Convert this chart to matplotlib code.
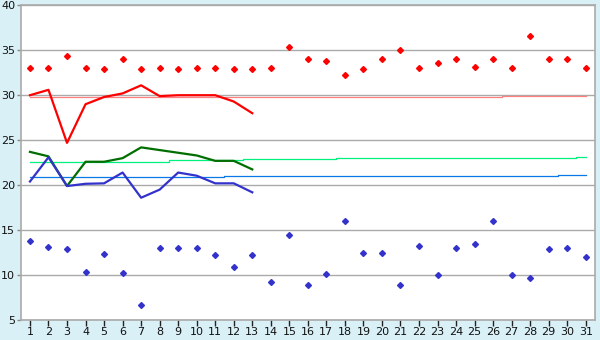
import matplotlib
matplotlib.use("Agg")
import matplotlib.pyplot as plt

days = list(range(1, 32))

max_temp = [33.0, 33.0, 34.4, 33.0, 32.9, 34.0, 32.9, 33.0, 32.9, 33.0,
            33.0, 32.9, 32.9, 33.0, 35.4, 34.0, 33.8, 32.2, 32.9, 34.0,
            35.0, 33.0, 33.55, 34.0, 33.1, 34.0, 33.0, 36.6, 34.0, 34.0, 33.0]
min_temp = [13.8, 13.1, 12.9, 10.3, 12.3, 10.2, 6.7, 13.0, 13.0, 13.0,
            12.2, 10.9, 12.2, 9.2, 14.4, 8.9, 10.1, 16.0, 12.4, 12.4,
            8.9, 13.2, 10.0, 13.0, 13.4, 16.0, 10.0, 9.7, 12.9, 13.0, 12.0]

line_days = list(range(1, 14))
high_line = [30.0, 30.6, 24.7, 29.0, 29.8, 30.2, 31.1, 29.9, 30.0, 30.0, 30.0, 29.3, 28.0]
mean_line = [23.7, 23.2, 19.9, 22.6, 22.6, 23.0, 24.2, 23.9, 23.6, 23.3, 22.7, 22.7, 21.75]
low_line = [20.4, 23.1, 19.9, 20.15, 20.2, 21.4, 18.6, 19.5, 21.4, 21.05, 20.2, 20.2, 19.2]

normal_high = [29.8] * 26 + [29.9] * 5
normal_mean = [22.55] * 3 + [22.62] * 5 + [22.75] * 4 + [22.88] * 5 + [23.0] * 13 + [23.12]
normal_low = [20.92] * 11 + [21.03] * 18 + [21.14] * 2

y_ticks = [5, 10, 15, 20, 25, 30, 35, 40]

bg = "#d9f0f7"
fig = plt.figure(figsize=(6, 3.4), dpi=100, facecolor=bg)
ax = fig.add_axes([0.0345, 0.0588, 0.9572, 0.9256])
ax.set_facecolor("white")

for y in y_ticks:
    ax.axhline(y, color="#aaaaaa", lw=1.0, zorder=0)

ax.plot(days, normal_high, drawstyle="steps-mid", color="#ff8080", lw=0.9, zorder=2)
ax.plot(days, normal_mean, drawstyle="steps-mid", color="#00f080", lw=0.9, zorder=2)
ax.plot(days, normal_low, drawstyle="steps-mid", color="#0a78e6", lw=0.9, zorder=2)

ax.plot(line_days, high_line, color="#ff0000", lw=1.6, zorder=3)
ax.plot(line_days, mean_line, color="#006e00", lw=1.6, zorder=3)
ax.plot(line_days, low_line, color="#3333cc", lw=1.6, zorder=3)

ax.plot(days, max_temp, linestyle="none", marker="D", markersize=3.0,
        color="#ff0000", zorder=4)
ax.plot(days, min_temp, linestyle="none", marker="D", markersize=3.0,
        color="#3333cc", zorder=4)

ax.set_xlim(0.5, 31.5)
ax.set_ylim(5, 40)
ax.set_xticks(days)
ax.set_xticklabels([str(d) for d in days])
ax.set_yticks(y_ticks)
ax.set_yticklabels([str(y) for y in y_ticks])

for s in ax.spines.values():
    s.set_color("#aaaaaa")
    s.set_linewidth(1.2)

ax.tick_params(axis="x", length=4, width=1, color="#222222", labelsize=8, pad=1, labelcolor="#111111")
ax.tick_params(axis="y", length=3, width=1, color="#888888", labelsize=8, pad=1, labelcolor="#111111")

fig.savefig("out.png", dpi=100, facecolor=bg)
